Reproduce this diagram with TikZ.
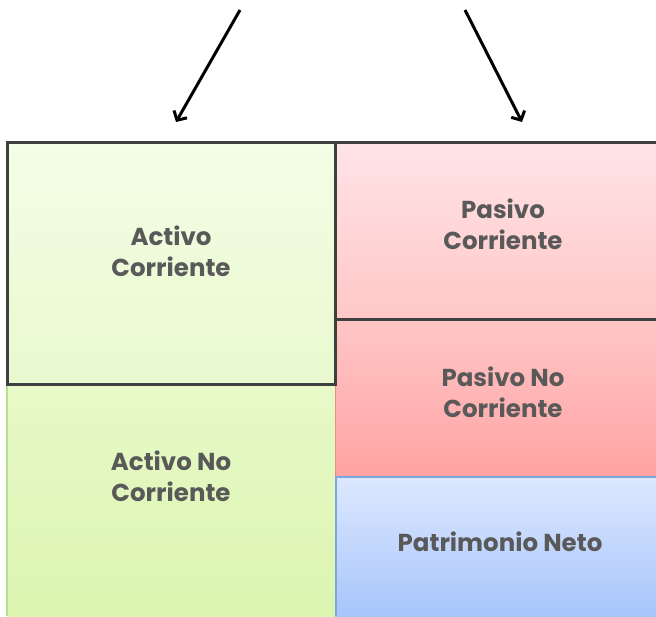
\documentclass[tikz,border=0pt]{standalone}
\usepackage{fontspec}
\setmainfont{Poppins}
\usetikzlibrary{arrows.meta}
\definecolor{txt}{HTML}{595959}
\definecolor{dark}{HTML}{3F3F3F}
\definecolor{acT}{HTML}{F4FDE6}
\definecolor{acB}{HTML}{E8F9CF}
\definecolor{ancT}{HTML}{E7F9C8}
\definecolor{ancB}{HTML}{DCF5B1}
\definecolor{ancE}{HTML}{BBDD92}
\definecolor{pcT}{HTML}{FFE4E7}
\definecolor{pcB}{HTML}{FFC7C7}
\definecolor{pncT}{HTML}{FFC6C6}
\definecolor{pncB}{HTML}{FFA3A3}
\definecolor{pncE}{HTML}{E88C8C}
\definecolor{pnT}{HTML}{DDE8FF}
\definecolor{pnB}{HTML}{A7C5FA}
\definecolor{pnE}{HTML}{7FA5DD}
\tikzset{
  lbl/.style={text=txt, font=\fontsize{24.5}{31}\selectfont\bfseries, align=center, inner sep=0pt},
  frame/.style={draw=dark, line width=3pt, line cap=rect},
  arr/.style={line width=3pt, -{Straight Barb[length=7pt,width=15pt,line width=3pt]}}
}
\begin{document}
\begin{tikzpicture}[x=1pt,y=-1pt]
\useasboundingbox (0,0) rectangle (656,616);
% fills
\shade[top color=acT, bottom color=acB] (7,142) rectangle (335,384);
\shade[top color=ancT, bottom color=ancB] (7,384) rectangle (335,616);
\shade[top color=pcT, bottom color=pcB] (335,142) rectangle (656,319);
\shade[top color=pncT, bottom color=pncB] (335,319) rectangle (656,477);
\shade[top color=pnT, bottom color=pnB] (335,477) rectangle (656,616);
% thin edges
\draw[ancE, line width=1.5pt] (7,384) -- (7,616);
\draw[ancE!70!gray, line width=1pt] (335,384) -- (335,616);
\draw[pncE, line width=1pt] (335,319) -- (335,477);
\draw[pnE, line width=2pt] (336,616) -- (336,477) -- (656,477);
% thick frame
\draw[frame] (7,384) -- (7,142) -- (656,142);
\draw[frame] (7,384) -- (335,384) -- (335,142);
\draw[frame] (335,319) -- (656,319);
% labels
\node[lbl] (ac) at (171,251) {Activo\\Corriente};
\node[lbl] (anc) at (171,476) {Activo No\\Corriente};
\node[lbl] (pc) at (503,224) {Pasivo\\Corriente};
\node[lbl] (pnc) at (503,392) {Pasivo No\\Corriente};
\node[lbl] (pn) at (500,542) {Patrimonio Neto};
% arrows
\coordinate (a1s) at (240,10);
\coordinate (a1e) at (176,122);
\coordinate (a2s) at (465,10);
\coordinate (a2e) at (522,122);
\draw[arr] (a1s) -- (a1e);
\draw[arr] (a2s) -- (a2e);
\end{tikzpicture}
\end{document}
